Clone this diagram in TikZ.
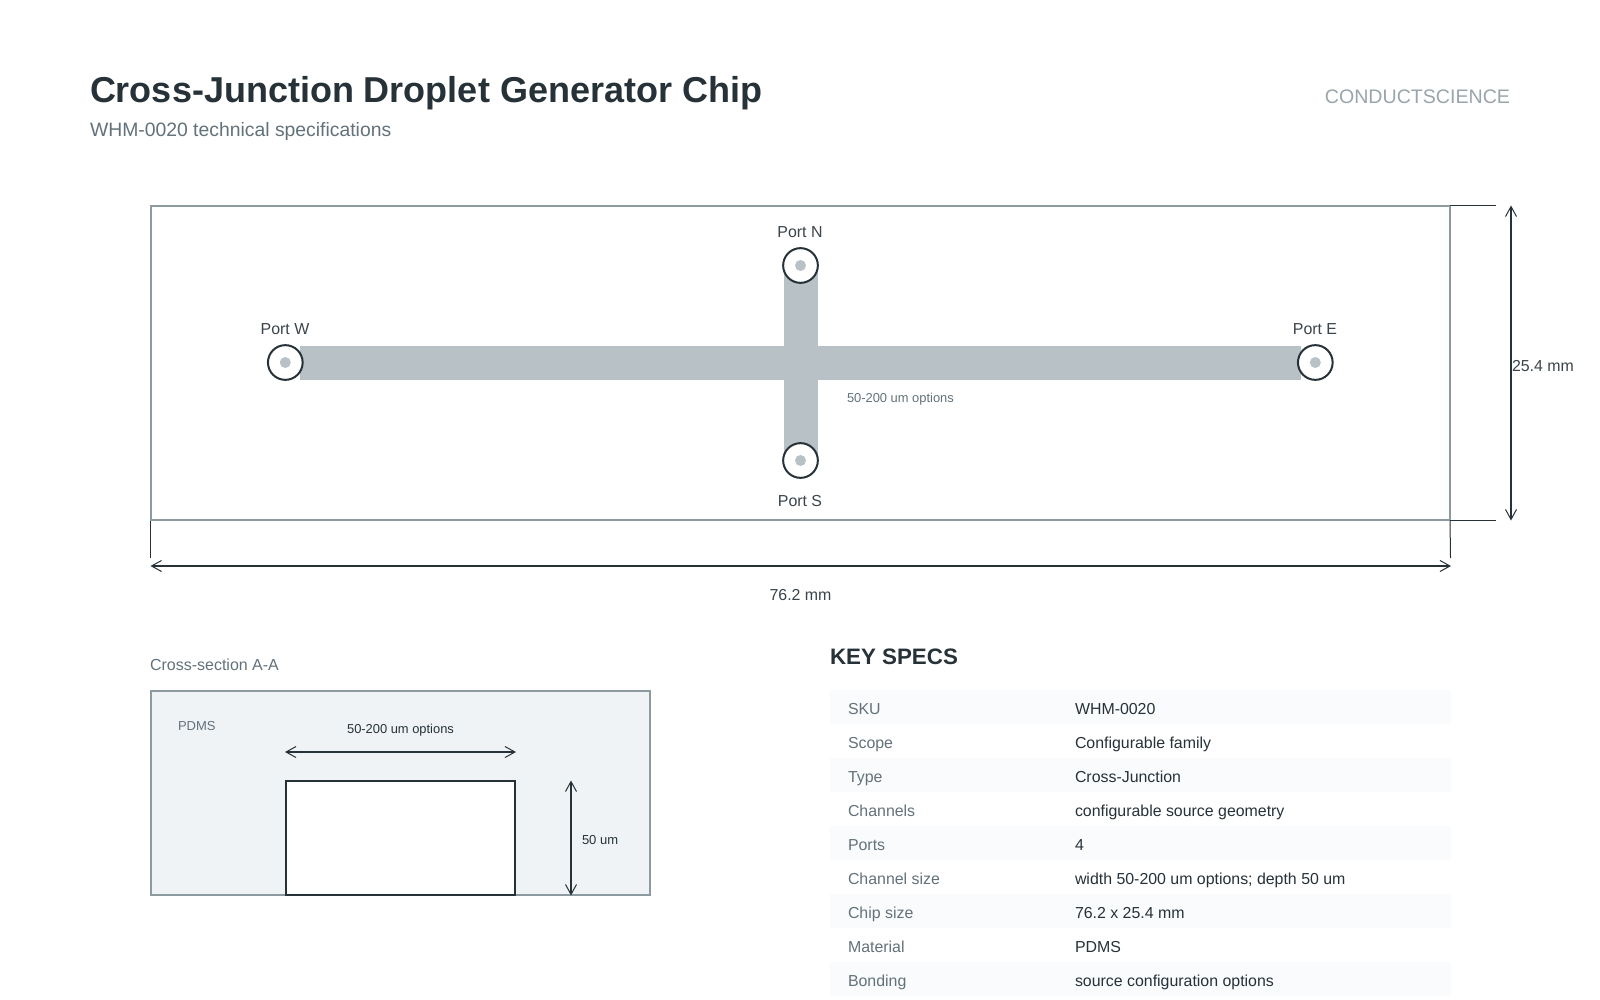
\documentclass[tikz,border=0pt]{standalone}
\usepackage{fontspec}
\setmainfont{Liberation Sans}
\usetikzlibrary{arrows.meta}
\definecolor{ink}{HTML}{263238}
\definecolor{muted}{HTML}{63727A}
\definecolor{edge}{HTML}{8D9BA1}
\definecolor{chan}{HTML}{B8C1C5}
\definecolor{pdms}{HTML}{EFF3F6}
\definecolor{band}{HTML}{FAFBFC}
\definecolor{brand}{HTML}{9AA5AB}
\definecolor{labelc}{HTML}{3A444A}
\tikzset{
  x=1pt,y=-1pt,
  txt/.style={inner sep=0pt,outer sep=0pt,anchor=base west},
  mid/.style={inner sep=0pt,outer sep=0pt,anchor=base},
  fs/.style={font=\fontsize{#1}{#1}\selectfont},
  portc/.style={circle,draw=ink,line width=2pt,fill=white,minimum size=34.7pt,inner sep=0pt,outer sep=0pt},
  dot/.style={circle,fill=chan,minimum size=11pt,inner sep=0pt,outer sep=0pt},
  dim/.style={draw=ink,line width=2pt,{Straight Barb[length=10pt,width=11pt,line width=1pt]}-{Straight Barb[length=10pt,width=11pt,line width=1pt]},shorten <=0pt,shorten >=0pt},
  ext/.style={draw=ink,line width=1pt},
}
\begin{document}
\begin{tikzpicture}
\useasboundingbox (0,0) rectangle (1600,1000);
\fill[white] (0,0) rectangle (1600,1000);
% header
\node[txt,text=ink,font=\fontsize{36}{36}\selectfont\bfseries] (title) at (90,103) {Cross-Junction Droplet Generator Chip};
\node[txt,fs=19.36,text=muted] (sub) at (90,137) {WHM-0020 technical specifications};
\node[inner sep=0pt,outer sep=0pt,anchor=base east,fs=19.6,text=brand] (brand) at (1510,104) {CONDUCTSCIENCE};
% chip
\draw[edge,line width=2pt] (151,206) rectangle (1450,520);
\fill[chan] (300,346) rectangle (1301,380);
\fill[chan] (784,265) rectangle (818,460);
\foreach \n/\x/\y in {W/285.3/362.5,E/1315.3/362.5,N/800.5/265.5,S/800.5/460.5}{
  \node[portc] (port\n) at (\x,\y) {};
  \node[dot] (dot\n) at (\x,\y) {};
}
\node[mid,fs=15.9,text=labelc] (lN) at (800,238) {Port N};
\node[mid,fs=15.9,text=labelc] (lS) at (800,506) {Port S};
\node[mid,fs=15.9,text=labelc] (lW) at (285,334) {Port W};
\node[mid,fs=15.9,text=labelc] (lE) at (1315,334) {Port E};
\node[txt,fs=12.9,text=muted] (chlab) at (847,402) {50-200 um options};
% dimensions
\coordinate (tr) at (1450,205.5);
\coordinate (br) at (1450,520.5);
\coordinate (bl) at (150.5,520.5);
\coordinate (dt) at (1511,205.5);
\coordinate (db) at (1511,520.5);
\coordinate (dl) at (150.5,566);
\coordinate (dr) at (1451,566);
\draw[ext] (tr) -- (1496,205.5);
\draw[ext] (br) -- (1496,520.5);
\draw[ext] (bl) -- (150.5,558);
\draw[ext] (br) -- (1450.5,558);
\draw[dim] (dt) -- (db);
\draw[dim] (dl) -- (dr);
\node[txt,fs=15.9,text=labelc] (wd) at (1512,371) {25.4 mm};
\node[mid,fs=15.9,text=labelc] (ln) at (800.5,600.5) {76.2 mm};
% cross-section
\node[txt,fs=16,text=muted] (cs) at (150,670) {Cross-section A-A};
\draw[edge,line width=2pt,fill=pdms] (151,691) rectangle (650,895);
\draw[ink,line width=2pt,fill=white] (286,781) rectangle (515,895);
\node[txt,fs=13,text=muted] (pd) at (178,730) {PDMS};
\node[mid,fs=12.9,text=ink] (wlab) at (400.5,733) {50-200 um options};
\coordinate (a1) at (285,752);
\coordinate (a2) at (516,752);
\coordinate (b1) at (571,780.5);
\coordinate (b2) at (571,895.5);
\draw[dim] (a1) -- (a2);
\draw[dim] (b1) -- (b2);
\node[txt,fs=13,text=ink] (dp) at (582,844) {50 um};
% specs
\node[txt,text=ink,font=\fontsize{22.35}{22}\selectfont\bfseries] (ks) at (830,664) {KEY SPECS};
\foreach \i/\k/\v/\f in {0/SKU/WHM-0020/band,1/Scope/Configurable family/white,2/Type/Cross-Junction/band,3/Channels/configurable source geometry/white,4/Ports/4/band,5/Channel size/width 50-200 um options; depth 50 um/white,6/Chip size/76.2 x 25.4 mm/band,7/Material/PDMS/white,8/Bonding/source configuration options/band}{
  \pgfmathsetmacro{\yy}{690+34*\i}
  \fill[\f] (830,\yy) rectangle (1451,\yy+34);
  \node[txt,fs=15.9,text=muted] (key\i) at (848,\yy+24) {\k};
  \node[txt,fs=15.9,text=ink] (val\i) at (1075,\yy+24) {\v};
}
\end{tikzpicture}
\end{document}
